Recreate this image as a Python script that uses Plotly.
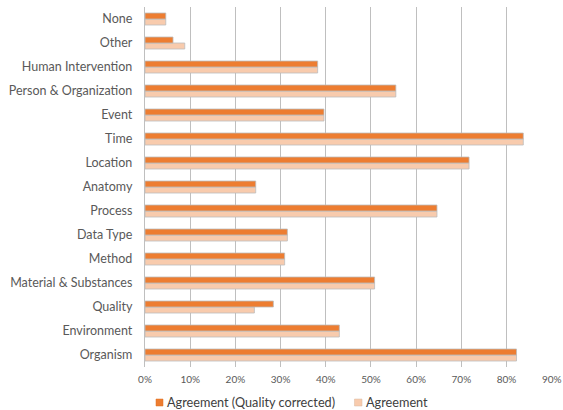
import plotly.graph_objects as go

categories = ["Organism", "Environment", "Quality", "Material & Substances", "Method",
              "Data Type", "Process", "Anatomy", "Location", "Time", "Event",
              "Person & Organization", "Human Intervention", "Other", "None"]
agreement_qc = [0.822, 0.430, 0.284, 0.508, 0.309, 0.315, 0.646, 0.245, 0.717, 0.837,
                0.396, 0.555, 0.382, 0.062, 0.046]
agreement = [0.822, 0.430, 0.242, 0.508, 0.309, 0.315, 0.646, 0.245, 0.717, 0.837,
             0.396, 0.555, 0.382, 0.088, 0.046]
x_ticks = [0, 0.1, 0.2, 0.3, 0.4, 0.5, 0.6, 0.7, 0.8, 0.9]
x_labels = ["0%", "10%", "20%", "30%", "40%", "50%", "60%", "70%", "80%", "90%"]
series_names = ["Agreement (Quality corrected)", "Agreement"]

COL_QC = "#ED7D31"
COL_AG = "#F8CBAD"

fig = go.Figure()
fig.add_trace(go.Bar(y=categories, x=agreement, orientation="h", name=series_names[1],
                     marker=dict(color=COL_AG, line=dict(color="#BDBDBD", width=0.8)),
                     showlegend=False))
fig.add_trace(go.Bar(y=categories, x=agreement_qc, orientation="h", name=series_names[0],
                     marker=dict(color=COL_QC, line=dict(color="#BDBDBD", width=0.8)),
                     showlegend=False))

# legend drawn below the plot (paper coordinates)
legend_items = [
    dict(name=series_names[0], color=COL_QC, line="#E07020", sq=(0.027, 0.0442), tx=0.0516),
    dict(name=series_names[1], color=COL_AG, line="#D9B8A0", sq=(0.5147, 0.5332), tx=0.5405),
]
for it in legend_items:
    fig.add_shape(type="rect", xref="paper", yref="paper",
                  x0=it["sq"][0], x1=it["sq"][1], y0=-0.1083, y1=-0.0889,
                  fillcolor=it["color"], line=dict(color=it["line"], width=0.5))
    fig.add_annotation(xref="paper", yref="paper", x=it["tx"], y=-0.0972,
                       xanchor="left", yanchor="middle", showarrow=False,
                       text=it["name"], font=dict(size=12.7, color="#404040"),
                       borderpad=0)

fig.update_layout(
    width=563, height=410,
    margin=dict(l=145, r=11, t=7, b=43),
    barmode="group", bargap=0.5, bargroupgap=0,
    plot_bgcolor="white", paper_bgcolor="white",
    font=dict(family="Lato", color="#595959", size=12),
    showlegend=False,
    xaxis=dict(range=[0, 0.9005], tickvals=x_ticks, ticktext=x_labels,
               showgrid=True, gridcolor="#BFBFBF", gridwidth=1.3,
               zeroline=False, tickfont=dict(size=10), ticks="", automargin=False,
               ticklabelstandoff=5),
    yaxis=dict(categoryorder="array", categoryarray=categories,
               showline=True, linecolor="#BFBFBF", linewidth=1.3, automargin=False,
               ticks="", ticklabelstandoff=9, tickfont=dict(size=12.5)),
)

fig.write_html("out.html", config={"displayModeBar": False},
               post_script="document.body.style.margin='0';document.body.style.overflow='hidden';")
